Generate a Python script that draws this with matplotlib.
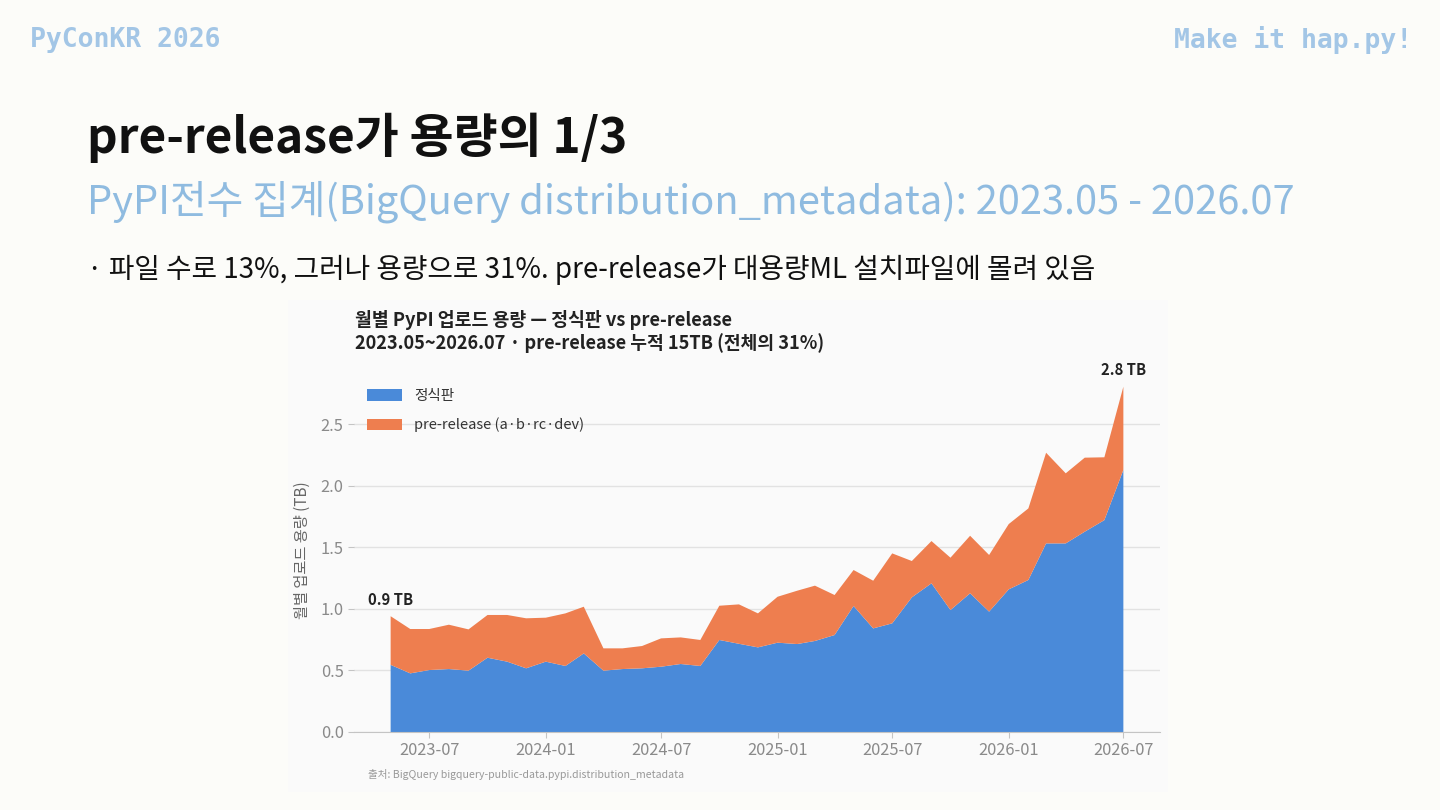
import matplotlib.pyplot as plt
import matplotlib.dates as mdates
import numpy as np
import pandas as pd
from matplotlib.patches import Rectangle

plt.rcParams['font.family'] = ['Noto Sans CJK KR', 'DejaVu Sans']

# monthly upload volume (TB), 2023-05 .. 2026-07
months = pd.date_range('2023-05-01', '2026-07-01', freq='MS')
release = [0.545, 0.476, 0.503, 0.511, 0.498, 0.603, 0.571, 0.517, 0.571, 0.536,
           0.638, 0.498, 0.511, 0.517, 0.530, 0.552, 0.536, 0.747, 0.716, 0.687,
           0.725, 0.714, 0.739, 0.787, 1.023, 0.841, 0.882, 1.093, 1.207, 0.990,
           1.126, 0.977, 1.158, 1.234, 1.531, 1.531, 1.626, 1.720, 2.127]
prerelease = [0.395, 0.360, 0.333, 0.360, 0.335, 0.347, 0.379, 0.406, 0.357, 0.427,
              0.379, 0.181, 0.168, 0.181, 0.230, 0.216, 0.211, 0.278, 0.320, 0.276,
              0.373, 0.433, 0.449, 0.325, 0.292, 0.387, 0.568, 0.295, 0.343, 0.425,
              0.467, 0.460, 0.530, 0.581, 0.736, 0.569, 0.601, 0.510, 0.676]
series_labels = ['정식판', 'pre-release (a·b·rc·dev)']
tick_months = ['2023-07', '2024-01', '2024-07', '2025-01', '2025-07', '2026-01', '2026-07']

W, H = 1440, 810
blue = '#4a8ad9'
orange = '#ee7e4f'
light_blue = '#8fbbe0'


def px(x, y):
    return x / W, 1 - y / H


fig = plt.figure(figsize=(14.4, 8.1), dpi=100, facecolor='#fcfcf9')

# slide header / text
fig.text(*px(30, 40), 'PyConKR 2026', family='DejaVu Sans Mono', weight='bold',
         fontsize=19, color='#a3c6e6', va='center')
fig.text(*px(1412, 40), 'Make it hap.py!', family='DejaVu Sans Mono', weight='bold',
         fontsize=19, color='#a3c6e6', va='center', ha='right')
fig.text(*px(87, 138), 'pre-release가 용량의 1/3', fontsize=34.4, weight='bold',
         color='#111111', va='center')
fig.text(*px(87, 202), 'PyPI전수 집계(BigQuery distribution_metadata): 2023.05 - 2026.07',
         fontsize=28.7, color=light_blue, va='center')
fig.text(*px(87, 270), '· 파일 수로 13%, 그러나 용량으로 31%. pre-release가 대용량ML 설치파일에 몰려 있음',
         fontsize=20, color='#111111', va='center')

# chart panel
fig.patches.append(Rectangle(px(288, 792), 880 / W, 492 / H, transform=fig.transFigure,
                             facecolor='#fafafa', edgecolor='none', zorder=-1))

ax = fig.add_axes([354 / W, 1 - 732 / H, 806 / W, (732 - 368.6) / H])
ax.set_zorder(2)
ax.set_facecolor('none')
ax.stackplot(months, release, prerelease, colors=[blue, orange], labels=series_labels,
             linewidth=0)
ax.set_ylim(0, 2.95)
ax.set_yticks([0.0, 0.5, 1.0, 1.5, 2.0, 2.5])
ax.set_xticks(pd.to_datetime(tick_months))
ax.xaxis.set_major_formatter(mdates.DateFormatter('%Y-%m'))
ax.grid(axis='y', color='#e2e2e2', linewidth=1)
ax.set_axisbelow(True)
for s in ['top', 'right', 'left']:
    ax.spines[s].set_visible(False)
ax.spines['bottom'].set_color('#c4c4c4')
ax.tick_params(colors='#c4c4c4', labelcolor='#8a8a8a', labelsize=11.8, length=4)
ax.set_ylabel('월별 업로드 용량 (TB)', fontsize=11, color='#666666', labelpad=7)

total = np.array(release) + np.array(prerelease)
ax.annotate(f'{total[0]:.1f} TB', (months[0], total[0]), xytext=(0, 6),
            textcoords='offset points', ha='center', va='bottom', fontsize=10.7,
            weight='bold', color='#222222')
ax.annotate(f'{total[-1]:.1f} TB', (months[-1], total[-1]), xytext=(0, 6),
            textcoords='offset points', ha='center', va='bottom', fontsize=10.7,
            weight='bold', color='#222222')

ax.legend(loc='upper left', bbox_to_anchor=(0.0, 0.98), frameon=False, fontsize=10.5,
          handlelength=2.4, handleheight=0.8, labelspacing=1.0, labelcolor='#333333')

fig.text(*px(355, 320), '월별 PyPI 업로드 용량 — 정식판 vs pre-release', fontsize=13.2,
         weight='bold', color='#222222', va='center')
fig.text(*px(355, 343), '2023.05~2026.07 · pre-release 누적 15TB (전체의 31%)', fontsize=13.1,
         weight='bold', color='#222222', va='center')
fig.text(*px(368, 775), '출처: BigQuery bigquery-public-data.pypi.distribution_metadata',
         fontsize=7.6, color='#999999', va='center')

fig.savefig('out.png', dpi=100, facecolor=fig.get_facecolor())
